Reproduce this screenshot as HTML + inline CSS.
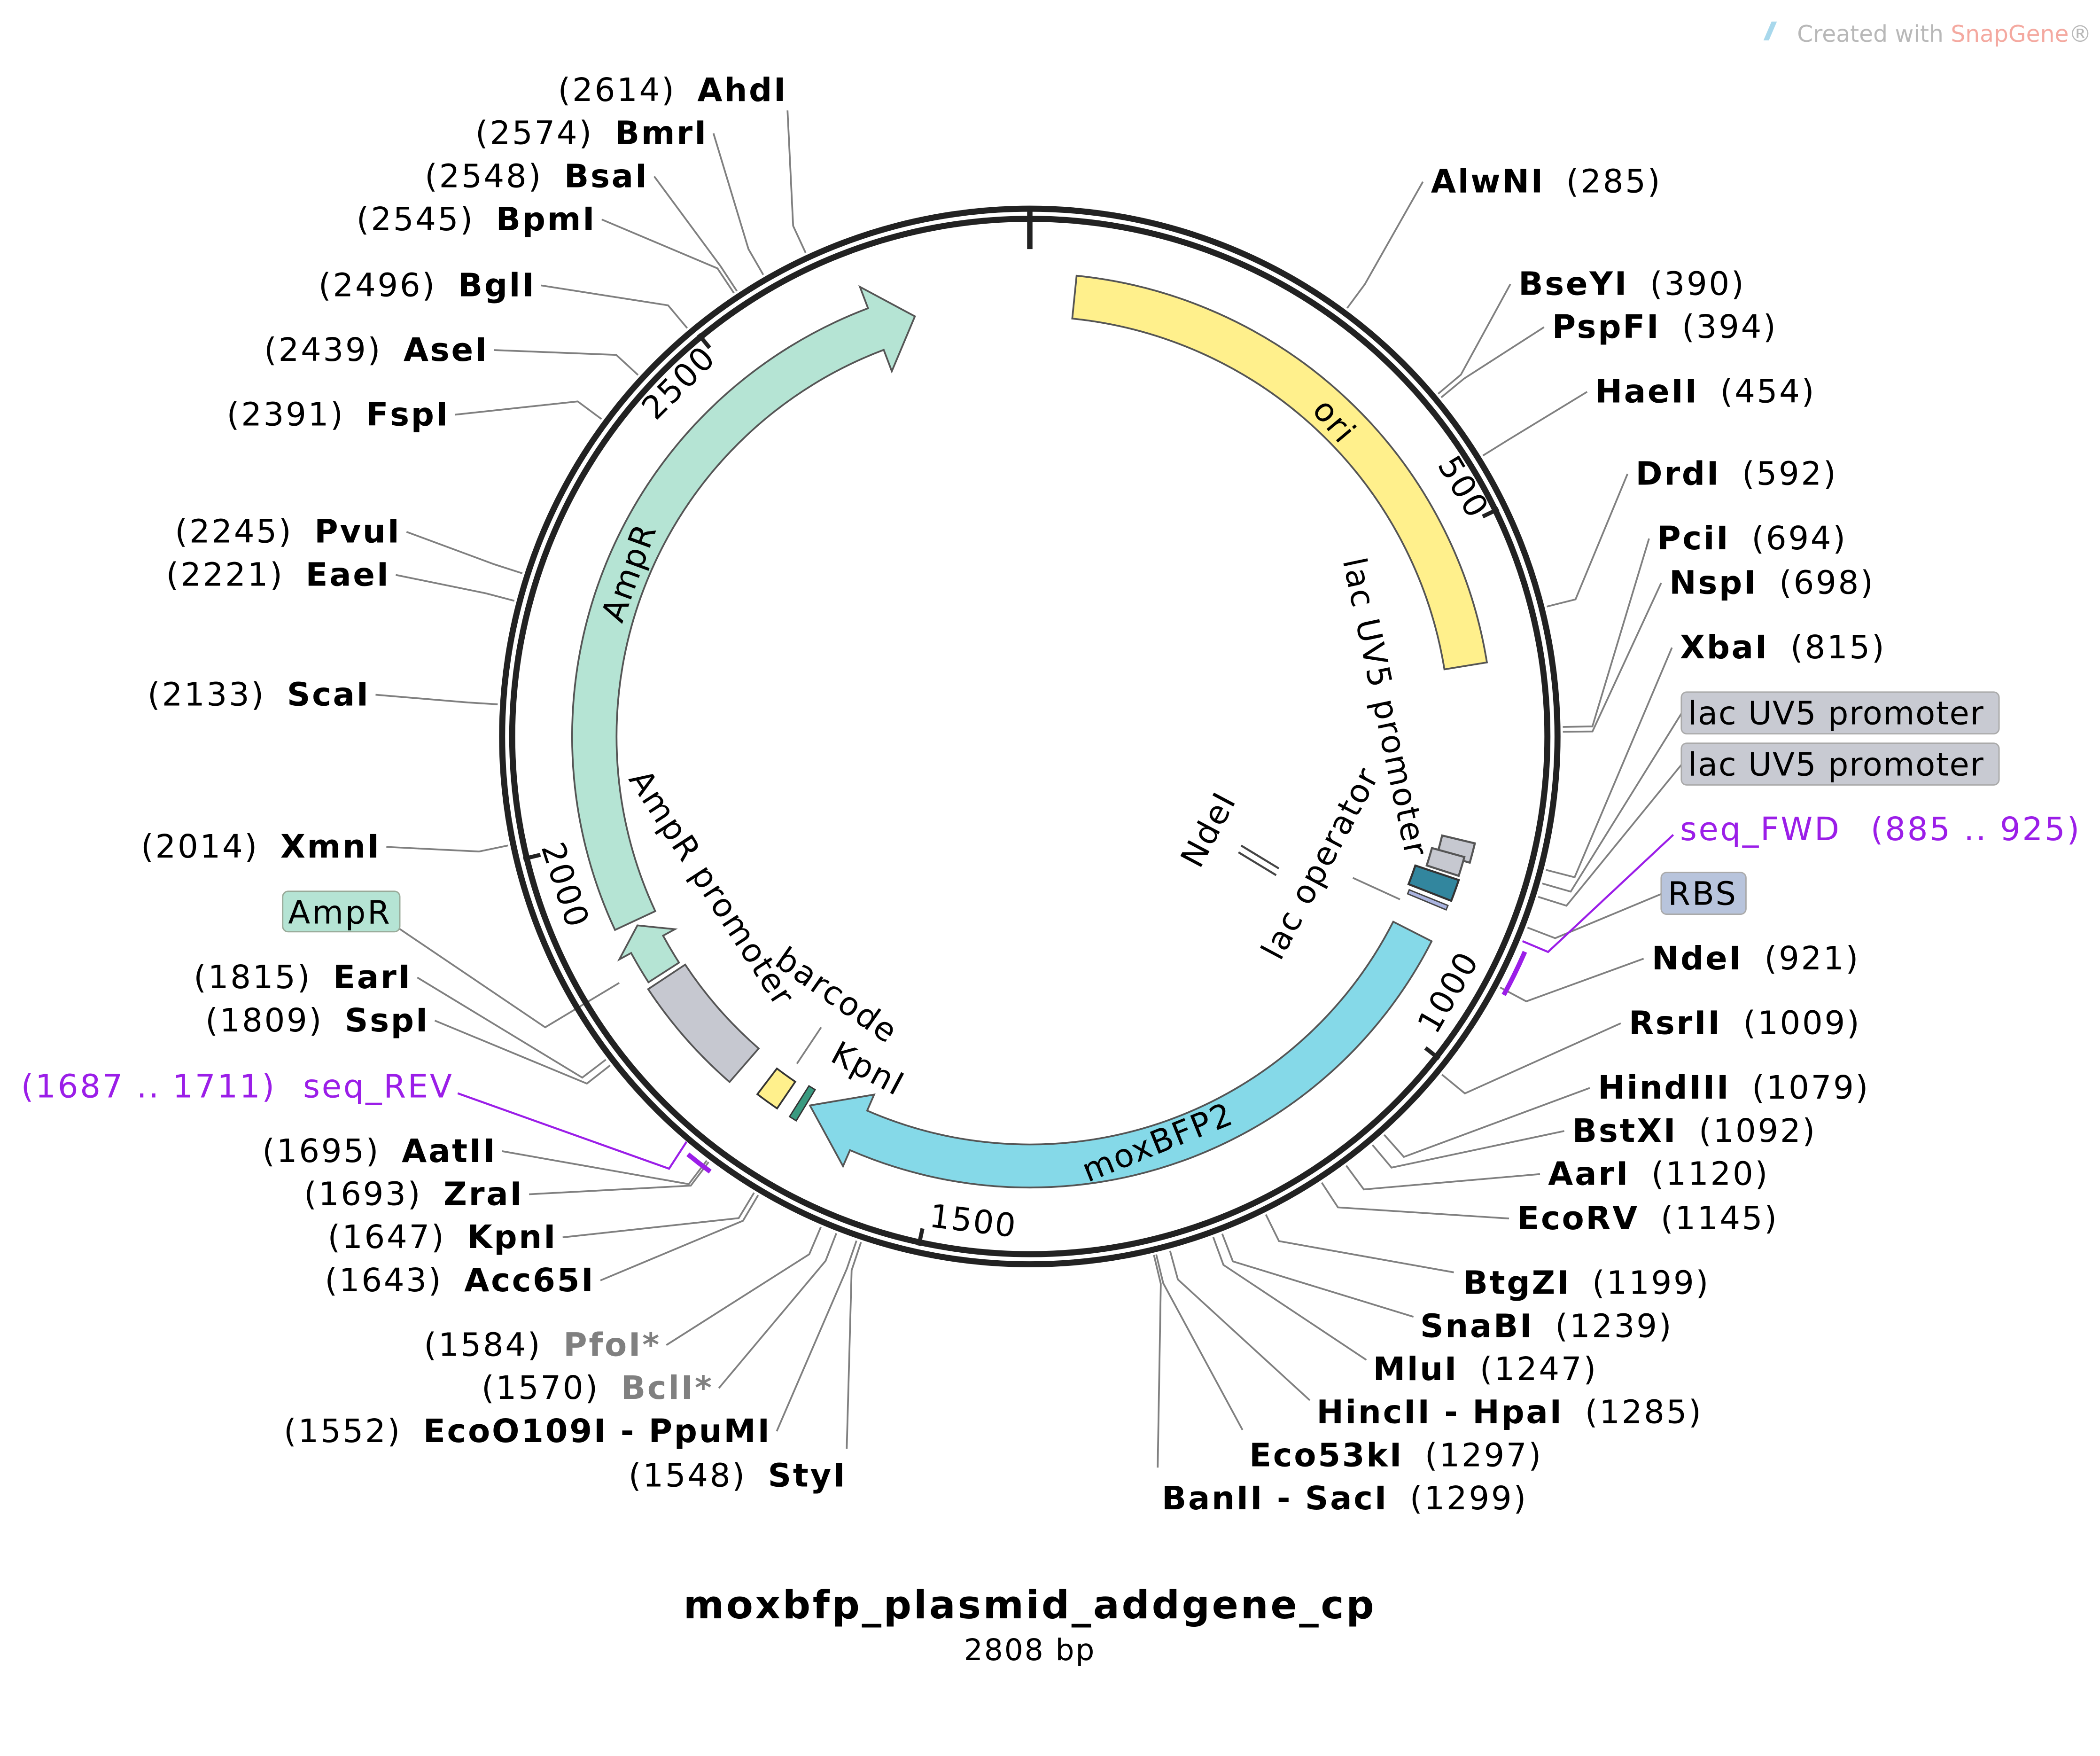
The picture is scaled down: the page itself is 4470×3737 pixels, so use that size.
<!DOCTYPE html>
<html><head><meta charset="utf-8">
<style>
html,body{margin:0;padding:0;background:#fff;}
svg{display:block;}
text{font-family:"DejaVu Sans","Liberation Sans",sans-serif;}
.l{font-size:24px;fill:#000;letter-spacing:1.3px;}
.b{font-weight:bold;}
.g{fill:#808080;}
.p{fill:#9b1ee8;}
.f{font-size:24px;fill:#000;letter-spacing:1px;}
</style></head>
<body>
<svg id="s" width="4470" height="3737" viewBox="0 0 1560 1304.2" preserveAspectRatio="none" xmlns="http://www.w3.org/2000/svg">
<g id="lines" stroke="#808080" stroke-width="1.3" fill="none"></g>
<g id="feat"></g>
<circle cx="765" cy="547" r="392" fill="none" stroke="#222" stroke-width="4.5"/>
<circle cx="765" cy="547" r="384.5" fill="none" stroke="#222" stroke-width="4.5"/>
<line x1="765" y1="154" x2="765" y2="185" stroke="#222" stroke-width="4"/>
<g id="ticks" stroke="#222" stroke-width="3"></g>

<text x="1335" y="31" style="font-size:17px;fill:#b8b8b8">Created with <tspan style="fill:#f4a9a0">SnapGene</tspan>®</text>
<path d="M1310 30 L1316 16 L1320 16 L1314 30Z" fill="#a8d8ec"/>

<text class="f" text-anchor="middle" transform="translate(1080,366) rotate(59)">500</text>
<text class="f" text-anchor="middle" transform="translate(1083,741) rotate(-60)">1000</text>
<text class="f" text-anchor="middle" transform="translate(722,915) rotate(7)">1500</text>
<text class="f" text-anchor="middle" transform="translate(412,660) rotate(72)">2000</text>
<text class="f" text-anchor="middle" transform="translate(510,290) rotate(-45)">2500</text>

<text class="f" text-anchor="middle" transform="translate(985,318) rotate(50)">ori</text>
<text class="f" text-anchor="middle" transform="translate(475,428) rotate(-70)">AmpR</text>
<text class="f" text-anchor="middle" transform="translate(863,856) rotate(-22)">moxBFP2</text>
<text class="f" text-anchor="middle" transform="translate(1021,527) rotate(78)">lac UV5 promoter</text>
<text class="f" text-anchor="middle" transform="translate(988,645) rotate(-62)">lac operator</text>
<text class="f" text-anchor="middle" transform="translate(905,620) rotate(-62)">NdeI</text>
<text class="f" text-anchor="middle" transform="translate(522,664) rotate(57)">AmpR promoter</text>
<text class="f" text-anchor="middle" transform="translate(617,746) rotate(35)">barcode</text>
<text class="f" text-anchor="middle" transform="translate(641,801) rotate(28)">KpnI</text>
<line x1="922" y1="628" x2="950" y2="645" stroke="#444" stroke-width="1.5"/>
<line x1="920" y1="633" x2="948" y2="650" stroke="#444" stroke-width="1.5"/>

<text class="l" x="1063" y="143"><tspan class="b">AlwNI</tspan><tspan dx="16">(285)</tspan></text>
<text class="l" x="1128" y="219"><tspan class="b">BseYI</tspan><tspan dx="16">(390)</tspan></text>
<text class="l" x="1153" y="251"><tspan class="b">PspFI</tspan><tspan dx="16">(394)</tspan></text>
<text class="l" x="1185" y="299"><tspan class="b">HaeII</tspan><tspan dx="16">(454)</tspan></text>
<text class="l" x="1215" y="360"><tspan class="b">DrdI</tspan><tspan dx="16">(592)</tspan></text>
<text class="l" x="1231" y="408"><tspan class="b">PciI</tspan><tspan dx="16">(694)</tspan></text>
<text class="l" x="1240" y="441"><tspan class="b">NspI</tspan><tspan dx="16">(698)</tspan></text>
<text class="l" x="1248" y="489"><tspan class="b">XbaI</tspan><tspan dx="16">(815)</tspan></text>
<rect x="1249" y="514" width="236" height="31" rx="4" fill="#c8cad2" stroke="#aaa"/>
<text class="l" x="1254" y="538" style="letter-spacing:0.6px">lac UV5 promoter</text>
<rect x="1249" y="552" width="236" height="31" rx="4" fill="#c8cad2" stroke="#aaa"/>
<text class="l" x="1254" y="576" style="letter-spacing:0.6px">lac UV5 promoter</text>
<text class="l p" x="1248" y="624">seq_FWD<tspan dx="22">(885 .. 925)</tspan></text>
<rect x="1234" y="648" width="63" height="31" rx="4" fill="#b8c4dc" stroke="#aaa"/>
<text class="l" x="1239" y="672">RBS</text>
<text class="l" x="1227" y="720"><tspan class="b">NdeI</tspan><tspan dx="16">(921)</tspan></text>
<text class="l" x="1210" y="768"><tspan class="b">RsrII</tspan><tspan dx="16">(1009)</tspan></text>
<text class="l" x="1187" y="816"><tspan class="b">HindIII</tspan><tspan dx="16">(1079)</tspan></text>
<text class="l" x="1168" y="848"><tspan class="b">BstXI</tspan><tspan dx="16">(1092)</tspan></text>
<text class="l" x="1150" y="880"><tspan class="b">AarI</tspan><tspan dx="16">(1120)</tspan></text>
<text class="l" x="1127" y="913"><tspan class="b">EcoRV</tspan><tspan dx="16">(1145)</tspan></text>
<text class="l" x="1087" y="961"><tspan class="b">BtgZI</tspan><tspan dx="16">(1199)</tspan></text>
<text class="l" x="1055" y="993"><tspan class="b">SnaBI</tspan><tspan dx="16">(1239)</tspan></text>
<text class="l" x="1020" y="1025"><tspan class="b">MluI</tspan><tspan dx="16">(1247)</tspan></text>
<text class="l" x="978" y="1057"><tspan class="b">HincII - HpaI</tspan><tspan dx="16">(1285)</tspan></text>
<text class="l" x="928" y="1089"><tspan class="b">Eco53kI</tspan><tspan dx="16">(1297)</tspan></text>
<text class="l" x="863" y="1121"><tspan class="b">BanII - SacI</tspan><tspan dx="16">(1299)</tspan></text>

<text class="l" x="585" y="75" text-anchor="end">(2614)<tspan class="b" dx="16">AhdI</tspan></text>
<text class="l" x="526" y="107" text-anchor="end">(2574)<tspan class="b" dx="16">BmrI</tspan></text>
<text class="l" x="482" y="139" text-anchor="end">(2548)<tspan class="b" dx="16">BsaI</tspan></text>
<text class="l" x="443" y="171" text-anchor="end">(2545)<tspan class="b" dx="16">BpmI</tspan></text>
<text class="l" x="398" y="220" text-anchor="end">(2496)<tspan class="b" dx="16">BglI</tspan></text>
<text class="l" x="363" y="268" text-anchor="end">(2439)<tspan class="b" dx="16">AseI</tspan></text>
<text class="l" x="334" y="316" text-anchor="end">(2391)<tspan class="b" dx="16">FspI</tspan></text>
<text class="l" x="298" y="403" text-anchor="end">(2245)<tspan class="b" dx="16">PvuI</tspan></text>
<text class="l" x="290" y="435" text-anchor="end">(2221)<tspan class="b" dx="16">EaeI</tspan></text>
<text class="l" x="275" y="524" text-anchor="end">(2133)<tspan class="b" dx="16">ScaI</tspan></text>
<text class="l" x="283" y="637" text-anchor="end">(2014)<tspan class="b" dx="16">XmnI</tspan></text>
<rect x="210" y="662" width="87" height="30" rx="4" fill="#b5e4d4" stroke="#9a9"/>
<text class="l" x="214" y="686">AmpR</text>
<text class="l" x="306" y="734" text-anchor="end">(1815)<tspan class="b" dx="16">EarI</tspan></text>
<text class="l" x="319" y="766" text-anchor="end">(1809)<tspan class="b" dx="16">SspI</tspan></text>
<text class="l p" x="337" y="815" text-anchor="end">(1687 .. 1711)<tspan dx="20">seq_REV</tspan></text>
<text class="l" x="369" y="863" text-anchor="end">(1695)<tspan class="b" dx="16">AatII</tspan></text>
<text class="l" x="389" y="895" text-anchor="end">(1693)<tspan class="b" dx="16">ZraI</tspan></text>
<text class="l" x="414" y="927" text-anchor="end">(1647)<tspan class="b" dx="16">KpnI</tspan></text>
<text class="l" x="442" y="959" text-anchor="end">(1643)<tspan class="b" dx="16">Acc65I</tspan></text>
<text class="l" x="491" y="1007" text-anchor="end">(1584)<tspan class="b g" dx="16">PfoI*</tspan></text>
<text class="l" x="530" y="1039" text-anchor="end">(1570)<tspan class="b g" dx="16">BclI*</tspan></text>
<text class="l" x="573" y="1071" text-anchor="end">(1552)<tspan class="b" dx="16">EcoO109I - PpuMI</tspan></text>
<text class="l" x="629" y="1104" text-anchor="end">(1548)<tspan class="b" dx="16">StyI</tspan></text>

<text x="765" y="1202" text-anchor="middle" style="font-size:29px;font-weight:bold;letter-spacing:1.6px">moxbfp_plasmid_addgene_cp</text>
<text x="765" y="1233" text-anchor="middle" style="font-size:22px;letter-spacing:1px">2808 bp</text>
</svg>
<script>
(function(){
var NS="http://www.w3.org/2000/svg",cx=765,cy=547;
function P(r,d){var a=d*Math.PI/180;return [cx+r*Math.sin(a),cy-r*Math.cos(a)];}
function s(p){return p[0].toFixed(2)+" "+p[1].toFixed(2);}
function deg(bp){return bp*360/2808;}
function add(g,tag,attrs){var e=document.createElementNS(NS,tag);for(var k in attrs)e.setAttribute(k,attrs[k]);document.getElementById(g).appendChild(e);return e;}
function band(r1,r2,a1,a2){var L=(a2-a1)>180?1:0;
 return "M"+s(P(r2,a1))+" A"+r2+" "+r2+" 0 "+L+" 1 "+s(P(r2,a2))+" L"+s(P(r1,a2))+" A"+r1+" "+r1+" 0 "+L+" 0 "+s(P(r1,a1))+"Z";}
function arrow(r1,r2,a1,a2,a3,h1,h2){var L=(a2-a1)>180?1:0;var rm=(r1+r2)/2;
 return "M"+s(P(r2,a1))+" A"+r2+" "+r2+" 0 "+L+" 1 "+s(P(r2,a2))+" L"+s(P(h2,a2))+" L"+s(P(rm,a3))+" L"+s(P(h1,a2))+" L"+s(P(r1,a2))+" A"+r1+" "+r1+" 0 "+L+" 0 "+s(P(r1,a1))+"Z";}
var st="#555";
add("feat","path",{d:band(312,344,5.8,80.8),fill:"#fff08c",stroke:st,"stroke-width":1.3});
add("feat","path",{d:arrow(303,335,117,203.5,210.8,290,348),fill:"#85d9e8",stroke:st,"stroke-width":1.3});
add("feat","path",{d:arrow(307,340,245,339.3,344.7,290,357),fill:"#b5e4d4",stroke:st,"stroke-width":1.3});
add("feat","path",{d:band(307,340,221,236.5),fill:"#c6c8d0",stroke:st,"stroke-width":1.3});
add("feat","path",{d:arrow(310,337,237.2,241.5,244.3,300,347),fill:"#b5e4d4",stroke:st,"stroke-width":1.3});
add("feat","path",{d:band(310,334,214.2,217.3),fill:"#fff08c",stroke:"#333","stroke-width":1.3});
add("feat","path",{d:band(307,334,211.3,212.3),fill:"#3a9a80",stroke:"#333","stroke-width":1});
add("feat","path",{d:band(315,340,103.5,106),fill:"#c6c8d0",stroke:st,"stroke-width":1.5});
add("feat","path",{d:band(310,335,105.5,108),fill:"#c6c8d0",stroke:st,"stroke-width":1.5});
add("feat","path",{d:band(302,336,108.5,111.3),fill:"#32869e",stroke:"#333","stroke-width":1.5});
add("feat","path",{d:band(304,335,112,112.6),fill:"#aab4e0",stroke:"#444","stroke-width":1});
function arcline(r,a1,a2){return "M"+s(P(r,a1))+" A"+r+" "+r+" 0 0 1 "+s(P(r,a2));}
add("feat","path",{d:arcline(401,113.5,118.6),stroke:"#9b1ee8","stroke-width":3.5,fill:"none"});
add("feat","path",{d:arcline(401,216.3,219.3),stroke:"#9b1ee8","stroke-width":3.5,fill:"none"});
add("feat","polyline",{points:"1243,620 1150,707 1131,699",stroke:"#9b1ee8","stroke-width":1.5,fill:"none"});
add("feat","polyline",{points:"340,812 497,868 510,848",stroke:"#9b1ee8","stroke-width":1.5,fill:"none"});
[500,1000,1500,2000,2500].forEach(function(b){var d=deg(b);add("ticks","line",{x1:P(374,d)[0],y1:P(374,d)[1],x2:P(387,d)[0],y2:P(387,d)[1]});});
var sites=[
[285,1057,135],[390,1122,211],[394,1147,243],[454,1179,291],[592,1209,352],[694,1225,400],[698,1234,433],[815,1242,481],
[921,1221,712],[1009,1204,760],[1079,1181,808],[1092,1162,840],[1120,1144,872],[1145,1121,905],
[1199,1080,945],[1239,1050,978],[1247,1015,1010],[1285,973,1040],[1297,923,1062],[1299,860,1090],
[2614,585,82],[2574,530,99],[2548,486,131],[2545,447,163],[2496,402,212],[2439,367,260],[2391,338,308],
[2245,302,395],[2221,294,427],[2133,279,516],[2014,287,629],[1815,310,726],[1809,323,758],
[1695,373,855],[1693,393,887],[1647,418,919],[1643,446,951],[1584,495,999],[1570,534,1031],[1552,577,1063],[1548,629,1076]];
sites.forEach(function(t){var d=deg(t[0]);var k=P(418,d),e=P(396,d);
 add("lines","polyline",{points:t[1]+","+t[2]+" "+s(k).replace(" ",",")+" "+s(e).replace(" ",",")});});
[["1249,530",106],["1249,568",107.5],["1234,664",111]].forEach(function(t){var k=P(418,t[1]),e=P(396,t[1]);
 add("lines","polyline",{points:t[0]+" "+s(k).replace(" ",",")+" "+s(e).replace(" ",",")});});
add("lines","polyline",{points:"297,690 405,763 460,730"});
add("lines","line",{x1:1005,y1:652,x2:1040,y2:668});
add("lines","line",{x1:610,y1:763,x2:592,y2:790});
})();
</script>
</body></html>
